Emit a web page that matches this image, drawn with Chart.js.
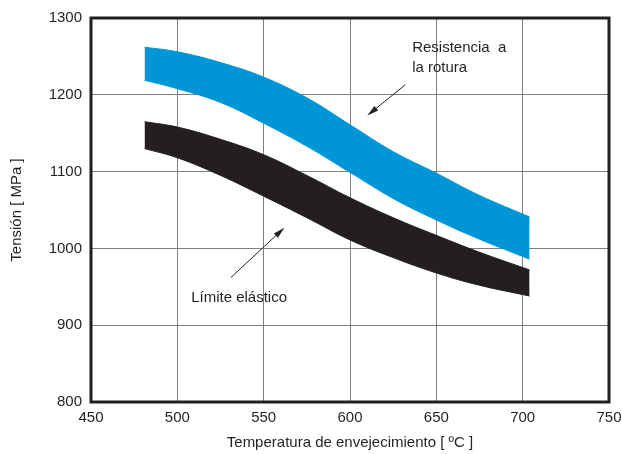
<!DOCTYPE html>
<html lang="es">
<head>
  <meta charset="UTF-8" />
  <title>Tensión vs temperatura de envejecimiento</title>
  <script src="https://cdn.jsdelivr.net/npm/chart.js"></script>
  <style>
    html, body { margin: 0; padding: 0; background: #fff; }
    #wrap { width: 622px; height: 454px; }
  </style>
</head>
<body>
  <div id="wrap"><canvas id="grafico" width="622" height="454"></canvas></div>

  <script>
    // temperaturas [ºC] donde se leen los bordes de las bandas
    const temperaturas = [481, 500, 525, 550, 575, 600, 625, 650, 675, 704];

    // Resistencia a la rotura (banda azul)
    const roturaSup = [1262, 1256, 1242, 1223, 1196, 1161, 1126, 1098, 1069, 1041];
    const roturaInf = [1219, 1208, 1190, 1163, 1133, 1099, 1065, 1037, 1012, 986];

    // Límite elástico (banda negra)
    const elasticoSup = [1165, 1158, 1142, 1122, 1095, 1066, 1040, 1017, 995, 972];
    const elasticoInf = [1130, 1118, 1095, 1068, 1040, 1011, 988, 968, 952, 938];

    const ticksX = [450, 500, 550, 600, 650, 700, 750];
    const ticksY = [800, 900, 1000, 1100, 1200, 1300];

    // anotaciones en unidades de datos
    const notas = [
      { texto: 'Resistencia  a', x: 636, y: 1261 },
      { texto: 'la rotura', x: 636, y: 1235 },
      { texto: 'Límite elástico', x: 508, y: 935 }
    ];
    const flechas = [
      { desde: [632, 1213], hasta: [610, 1173] },
      { desde: [531, 962], hasta: [562, 1027] }
    ];

    const AZUL = '#0096d6';
    const NEGRO = '#231f20';
    const TEXTO = '#231f20';
    const FUENTE = 'Liberation Sans, Arial, sans-serif';
    const TAM = 15;

    const puntos = ys => temperaturas.map((t, i) => ({ x: t, y: ys[i] }));

    function banda(ys, color, relleno) {
      return {
        data: puntos(ys),
        borderColor: color,
        backgroundColor: color,
        borderWidth: 1,
        pointRadius: 0,
        tension: 0.4,
        fill: relleno
      };
    }

    const marcoYNotas = {
      id: 'marcoYNotas',
      afterDatasetsDraw(chart) {
        const { ctx, chartArea: a, scales: { x, y } } = chart;
        ctx.save();
        ctx.strokeStyle = NEGRO;
        ctx.lineWidth = 3;
        ctx.strokeRect(a.left, a.top, a.right - a.left, a.bottom - a.top);

        ctx.fillStyle = TEXTO;
        ctx.font = TAM + 'px ' + FUENTE;
        ctx.textBaseline = 'middle';
        ctx.textAlign = 'left';
        notas.forEach(n => ctx.fillText(n.texto, x.getPixelForValue(n.x), y.getPixelForValue(n.y)));

        ctx.strokeStyle = NEGRO;
        ctx.fillStyle = NEGRO;
        ctx.lineWidth = 1;
        flechas.forEach(f => {
          const x0 = x.getPixelForValue(f.desde[0]), y0 = y.getPixelForValue(f.desde[1]);
          const x1 = x.getPixelForValue(f.hasta[0]), y1 = y.getPixelForValue(f.hasta[1]);
          const ang = Math.atan2(y1 - y0, x1 - x0);
          ctx.beginPath();
          ctx.moveTo(x0, y0);
          ctx.lineTo(x1 - 6 * Math.cos(ang), y1 - 6 * Math.sin(ang));
          ctx.stroke();
          ctx.beginPath();
          ctx.moveTo(x1, y1);
          ctx.lineTo(x1 - 12 * Math.cos(ang - 0.25), y1 - 12 * Math.sin(ang - 0.25));
          ctx.lineTo(x1 - 12 * Math.cos(ang + 0.25), y1 - 12 * Math.sin(ang + 0.25));
          ctx.closePath();
          ctx.fill();
        });
        ctx.restore();
      }
    };

    new Chart(document.getElementById('grafico'), {
      type: 'line',
      data: {
        datasets: [
          banda(roturaInf, AZUL, false),
          banda(roturaSup, AZUL, '-1'),
          banda(elasticoInf, NEGRO, false),
          banda(elasticoSup, NEGRO, '-1')
        ]
      },
      options: {
        responsive: false,
        animation: false,
        layout: { padding: { top: 18, right: 13, left: 0, bottom: 0 } },
        plugins: { legend: { display: false }, tooltip: { enabled: false } },
        scales: {
          x: {
            type: 'linear',
            min: 450,
            max: 750,
            afterBuildTicks: s => { s.ticks = ticksX.map(v => ({ value: v })); },
            afterFit: s => { s.height = 52; s.paddingLeft = 0; s.paddingRight = 0; },
            grid: { color: '#7f7f7f', lineWidth: 1, drawTicks: false },
            border: { display: false },
            ticks: {
              color: TEXTO, font: { family: FUENTE, size: TAM }, padding: 7, maxRotation: 0,
              callback: v => String(v)
            },
            title: {
              display: true,
              text: 'Temperatura de envejecimiento [ ºC ]',
              color: TEXTO,
              font: { family: FUENTE, size: TAM },
              padding: { top: 4, bottom: 2 }
            }
          },
          y: {
            min: 800,
            max: 1300,
            afterBuildTicks: s => { s.ticks = ticksY.map(v => ({ value: v })); },
            afterFit: s => { s.width = 91; s.paddingTop = 0; s.paddingBottom = 0; },
            grid: { color: '#7f7f7f', lineWidth: 1, drawTicks: false },
            border: { display: false },
            ticks: {
              color: TEXTO, font: { family: FUENTE, size: TAM }, padding: 9,
              callback: v => String(v)
            },
            title: {
              display: true,
              text: 'Tensión [ MPa ]',
              color: TEXTO,
              font: { family: FUENTE, size: TAM },
              padding: { top: 8, bottom: 4 }
            }
          }
        }
      },
      plugins: [marcoYNotas]
    });
  </script>
</body>
</html>
